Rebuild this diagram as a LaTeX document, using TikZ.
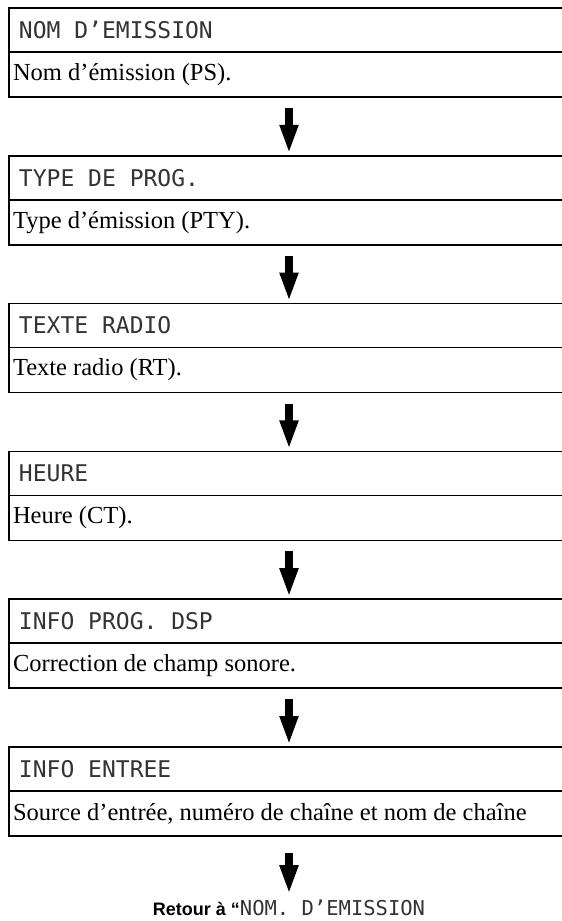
\documentclass[tikz,border=0pt]{standalone}
\usepackage{fontspec}
\setmainfont{Liberation Serif}
\newfontfamily\lcdfont{DejaVu Sans Mono}
\newfontfamily\labelfont{Liberation Sans}
\newcommand\lcdsize[1]{\lcdfont\mdseries\fontsize{#1}{#1}\selectfont}
\usetikzlibrary{
  arrows.meta,
  positioning
}

\tikzset{
  hdrbox/.style={draw, line width=1.7pt, outer sep=0pt,
    minimum width=560pt, minimum height=44pt, inner xsep=10pt,
    text width=540pt, align=left, text=black!80,
    font=\lcdsize{23},
    execute at begin node={\spaceskip=0pt\xspaceskip=0pt}},
  txtbox/.style={draw, line width=1.7pt, outer sep=0pt,
    minimum width=560pt, minimum height=45pt, inner xsep=4pt,
    text width=552pt, align=left,
    font=\fontsize{24.5}{24.5}\selectfont,
    execute at begin node={\spaceskip=0pt\xspaceskip=0pt}},
  flowarrow/.style={line width=8pt,
    -{Triangle[width=17pt,length=29pt]}}
}

\begin{document}
\begin{tikzpicture}[x=1pt,y=1pt]
  \useasboundingbox (0,0) rectangle (562,-921);
  \clip (0,0) rectangle (562,-921);

  % Display pages
  \foreach \i/\y/\hdr/\txt in {
      1/8/{NOM D’EMISSION}/{Nom d’émission (PS).},
      2/155.8/{TYPE DE PROG.}/{Type d’émission (PTY).},
      3/303.6/{TEXTE RADIO}/{Texte radio (RT).},
      4/451.4/{HEURE}/{Heure (CT).},
      5/599.2/{INFO PROG. DSP}/{Correction de champ sonore.},
      6/747/{INFO ENTREE}/{Source d’entrée, numéro de chaîne et nom de chaîne}}{
    \node[hdrbox, anchor=north] (h\i) at (289,-\y) {\hdr};
    \node[txtbox, below=0pt of h\i] (b\i) {\txt};
  }

  % Return label
  \node[inner sep=0pt, anchor=base] (ret) at (289,-915)
    {\labelfont\bfseries\fontsize{18}{18}\selectfont Retour à “%
     {\color{black!80}\lcdsize{20.5}NOM. D’EMISSION}};

  % Arrows between pages
  \foreach \i [count=\j from 2] in {1,...,5}{
    \draw[flowarrow] ([yshift=-11pt]b\i.south) -- ([yshift=2pt]h\j.north);
  }
  \draw[flowarrow] ([yshift=-17pt]b6.south) -- ([yshift=5pt]ret.north);
\end{tikzpicture}
\end{document}
